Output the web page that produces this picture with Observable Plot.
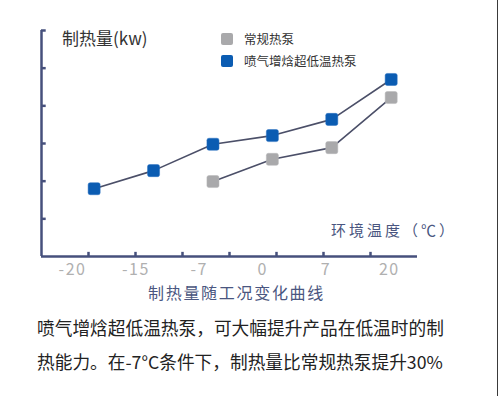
<!DOCTYPE html>
<html>
<head>
<meta charset="utf-8">
<script src="https://cdn.jsdelivr.net/npm/d3@7"></script>
<script src="https://cdn.jsdelivr.net/npm/@observablehq/plot@0.6"></script>
<style>
  body { margin: 0; background: #fff; }
  #wrap { position: relative; width: 500px; height: 396px; overflow: hidden; font-family: "Noto Sans CJK SC", "Noto Sans", sans-serif; }
  #wrap svg { position: absolute; left: 0; top: 0; }
  .t { position: absolute; white-space: nowrap; line-height: 1; }
  .sw { position: absolute; width: 12px; height: 12px; border-radius: 2px; }
  #edge { position: absolute; left: 497px; top: 0; width: 1px; height: 396px; background: #3a3a3a; }
  svg g[aria-label="text"] text { letter-spacing: 1.5px; }
</style>
</head>
<body>
<div id="wrap"></div>
<script>
// ---- data ----
const temps = ["-20", "-15", "-7", "0", "7", "20"];              // x tick labels (°C)
const standardTemps = ["-7", "0", "7", "20"];                      // 常规热泵
const standardValues = [1.99, 2.58, 2.89, 4.22];
const evTemps = ["-20", "-15", "-7", "0", "7", "20"];              // 喷气增焓超低温热泵
const evValues = [1.80, 2.28, 2.98, 3.21, 3.64, 4.70];
const yTicks = [1, 2, 3, 4, 5, 6];
const xTicks = [1, 2, 3, 4, 5, 6, 7];
const seriesNames = ["常规热泵", "喷气增焓超低温热泵"];
const colors = ["#a9a9ab", "#0b5cb2"];

// positions of categories along the (unlabelled) axis grid
const labelPos = d3.scalePoint(temps, [0.66, 7.40]);
const pointPos = d3.scalePoint(temps, [1.12, 7.44]);

const standard = standardTemps.map((t, i) => ({t, v: standardValues[i]}));
const ev = evTemps.map((t, i) => ({t, v: evValues[i]}));

const roundSquare = {
  draw(ctx, size) {
    const s = Math.sqrt(size) / 2, r = 2;
    ctx.moveTo(-s + r, -s);
    ctx.arcTo(s, -s, s, s, r);
    ctx.arcTo(s, s, -s, s, r);
    ctx.arcTo(-s, s, -s, -s, r);
    ctx.arcTo(-s, -s, s, -s, r);
    ctx.closePath();
  }
};

const axisColor = "#46507c";
const lineColor = "#4b4f68";
const font = "Noto Sans CJK SC";

const chart = Plot.plot({
  width: 500, height: 396,
  marginLeft: 41, marginRight: 83, marginTop: 30, marginBottom: 140,
  x: {domain: [0, 8], axis: null},
  y: {domain: [0, 6], axis: null},
  style: {background: "transparent", fontFamily: font},
  marks: [
    Plot.line(standard, {x: d => pointPos(d.t), y: "v", stroke: lineColor, strokeWidth: 1.6}),
    Plot.line(ev, {x: d => pointPos(d.t), y: "v", stroke: lineColor, strokeWidth: 1.6}),
    Plot.dot(standard, {x: d => pointPos(d.t), y: "v", symbol: roundSquare, r: 6.8, fill: colors[0], stroke: "#b8b8ba", strokeWidth: 0.5}),
    Plot.dot(ev, {x: d => pointPos(d.t), y: "v", symbol: roundSquare, r: 6.8, fill: colors[1], stroke: "#2a70c0", strokeWidth: 0.5}),
    // axes
    Plot.ruleY([0], {x1: 0, x2: 8, stroke: axisColor, strokeWidth: 2.5}),
    Plot.ruleX([0], {y1: 0, y2: 6, stroke: axisColor, strokeWidth: 2.5}),
    Plot.ruleX(xTicks, {x: d => d, y1: 0, y2: 0.11, stroke: axisColor, strokeWidth: 2.5}),
    Plot.ruleY(yTicks, {y: d => d, x1: 0, x2: 0.1, stroke: axisColor, strokeWidth: 2.5}),
    Plot.text(temps, {x: d => labelPos(d), y: 0, dy: 13, text: d => d, fontSize: 16, fill: "#b0b0b0", fontFamily: font})
  ]
});

const wrap = document.getElementById("wrap");
wrap.appendChild(chart);

function addText(txt, left, top, size, color, extra = "") {
  const el = document.createElement("div");
  el.className = "t";
  el.textContent = txt;
  el.style.cssText += `left:${left}px;top:${top}px;font-size:${size}px;color:${color};${extra}`;
  wrap.appendChild(el);
}
function addSwatch(left, top, color) {
  const el = document.createElement("div");
  el.className = "sw";
  el.style.left = left + "px"; el.style.top = top + "px"; el.style.background = color;
  wrap.appendChild(el);
}

addText("制热量(kw)", 62, 29, 17, "#333");
addSwatch(221, 33, colors[0]);
addText(seriesNames[0], 244, 33, 12.5, "#333");
addSwatch(221, 55, colors[1]);
addText(seriesNames[1], 244, 55, 12.5, "#333");
addText("环境温度（℃）", 331, 222, 15, "#4a5680", "letter-spacing:3px;");
addText("制热量随工况变化曲线", 148, 284, 16, "#4a5680", "letter-spacing:1.7px;");
addText("喷气增焓超低温热泵，可大幅提升产品在低温时的制", 37, 319, 17.7, "#222");
addText("热能力。在-7°C条件下，制热量比常规热泵提升30%", 37, 353, 17.7, "#222");

const edge = document.createElement("div");
edge.id = "edge";
wrap.appendChild(edge);
</script>
</body>
</html>
